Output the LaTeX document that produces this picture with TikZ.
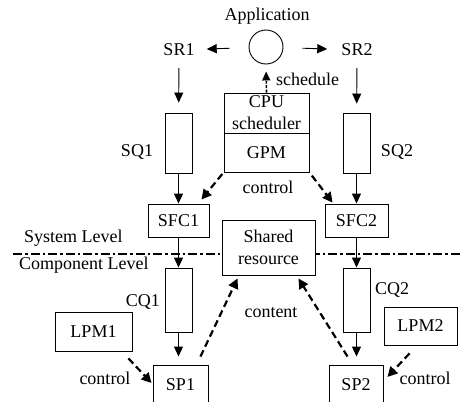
\documentclass[tikz,border=0pt]{standalone}
\usepackage{fontspec}
\setmainfont{Liberation Serif}
\usetikzlibrary{arrows.meta}
\tikzset{
  box/.style={draw, line width=0.9pt, fill=white, inner sep=0pt, align=center},
  lbl/.style={inner sep=0pt},
  solidarrow/.style={line width=0.9pt, -{Triangle[length=10pt,width=9pt]}},
  dasharrow/.style={line width=2.2pt, dash pattern=on 7pt off 4pt, -{Triangle[length=10pt,width=10pt]}},
  levelline/.style={line width=2pt, dash pattern=on 9pt off 3pt on 2.5pt off 3pt},
}
\begin{document}
\begin{tikzpicture}[x=1pt,y=-1pt, font=\fontsize{18}{19}\selectfont]
\clip (0,0) rectangle (461,402);
\fill[white] (0,0) rectangle (461,402);
% level separator
\coordinate (lineL) at (13,254);
\coordinate (lineR) at (461,254);
\draw[levelline] (lineL) -- (lineR);
% top
\node[lbl] (apptext) at (267,16) {Application};
\node[draw, circle, line width=0.9pt, minimum size=34pt, inner sep=0pt] (app) at (266,47) {};
\node[lbl] (SR1) at (179,50) {SR1};
\node[lbl] (SR2) at (357,50) {SR2};
\draw[solidarrow, shorten <=19pt, shorten >=12pt] (app) -- (SR1);
\draw[solidarrow, shorten <=19pt, shorten >=14pt] (app) -- (SR2);
% queues
\node[box, minimum width=27pt, minimum height=60pt] (SQ1) at (178.5,143) {};
\node[box, minimum width=27pt, minimum height=60pt] (SQ2) at (356.5,143) {};
\node[lbl] (SQ1t) at (137,152) {SQ1};
\node[lbl] (SQ2t) at (397,152) {SQ2};
\draw[solidarrow, shorten <=12pt, shorten >=10pt] (SR1) -- (SQ1);
\draw[solidarrow, shorten <=12pt, shorten >=9pt] (SR2) -- (SQ2);
% CPU scheduler / GPM
\node[box, minimum width=85pt, text height=12pt, text depth=18pt, minimum height=40pt, font=\fontsize{18}{21}\selectfont] (CPU) at (266.5,113) {};
\node[lbl] (CPUt1) at (266.5,102) {CPU};
\node[lbl] (CPUt2) at (266.5,123) {scheduler};
\node[box, minimum width=85pt, minimum height=39pt] (GPM) at (266.5,152.5) {GPM};
\draw[line width=1.6pt, dash pattern=on 3pt off 1.5pt, -{Triangle[length=9pt,width=8pt]}, shorten >=7pt] (CPU.north) -- (app.south);
\node[lbl, anchor=west] (schedt) at (276,79) {schedule};
% SFC
\node[box, minimum width=61pt, minimum height=33pt] (SFC1) at (178.5,220.5) {SFC1};
\node[box, minimum width=63pt, minimum height=33pt] (SFC2) at (356.5,220.5) {SFC2};
\draw[solidarrow] (SQ1) -- (SFC1);
\draw[solidarrow] (SQ2) -- (SFC2);
\draw[dasharrow, shorten <=2pt] (GPM.south west) -- ([xshift=-8pt,yshift=4pt]SFC1.north east);
\draw[dasharrow, shorten <=4pt] (GPM.south east) -- ([xshift=8pt,yshift=1pt]SFC2.north west);
\node[lbl] (ctrlt) at (268,187) {control};
% shared resource
\node[box, minimum width=93pt, minimum height=55pt, font=\fontsize{18}{22}\selectfont] (shared) at (268.5,247.5) {Shared\\resource};
\node[lbl, anchor=west] (syslvl) at (24,238) {System Level};
\node[lbl, anchor=west] (complvl) at (19,265) {Component Level};
% component queues
\node[box, minimum width=27pt, minimum height=64pt] (CQ1) at (178.5,300) {};
\node[box, minimum width=27pt, minimum height=64pt] (CQ2) at (356.5,300) {};
\node[lbl, anchor=east] (CQ1t) at (160,302) {CQ1};
\node[lbl, anchor=west] (CQ2t) at (375,290) {CQ2};
\draw[solidarrow] (SFC1) -- (CQ1);
\draw[solidarrow] (SFC2) -- (CQ2);
% LPM and SP
\node[box, minimum width=77pt, minimum height=39pt] (LPM1) at (93.5,331.5) {LPM1};
\node[box, minimum width=73pt, minimum height=38pt] (LPM2) at (420.5,326) {LPM2};
\node[box, minimum width=55pt, minimum height=40pt] (SP1) at (180.5,385) {SP1};
\node[box, minimum width=54pt, minimum height=40pt] (SP2) at (356,385) {SP2};
\draw[solidarrow, shorten >=8pt] (CQ1.south) -- (CQ1.south |- SP1.north);
\draw[solidarrow, shorten >=8pt] (CQ2.south) -- (CQ2.south |- SP2.north);
\draw[dasharrow] ([xshift=-8pt,yshift=8pt]SP1.north east) -- ([xshift=16pt,yshift=-3pt]shared.south west);
\draw[dasharrow] ([xshift=19pt,yshift=8pt]SP2.north west) -- ([xshift=-17pt,yshift=-3pt]shared.south east);
\draw[dasharrow] ([xshift=-4pt,yshift=-7pt]LPM1.south east) -- ([xshift=-1pt,yshift=2pt]SP1.west);
\draw[dasharrow] ([xshift=-11pt,yshift=-8pt]LPM2.south) -- ([xshift=4pt,yshift=8pt]SP2.east);
\node[lbl] (ctrl1) at (105,378) {control};
\node[lbl] (ctrl2) at (425,378) {control};
\node[lbl] (contentt) at (271,313) {content};
\end{tikzpicture}
\end{document}
